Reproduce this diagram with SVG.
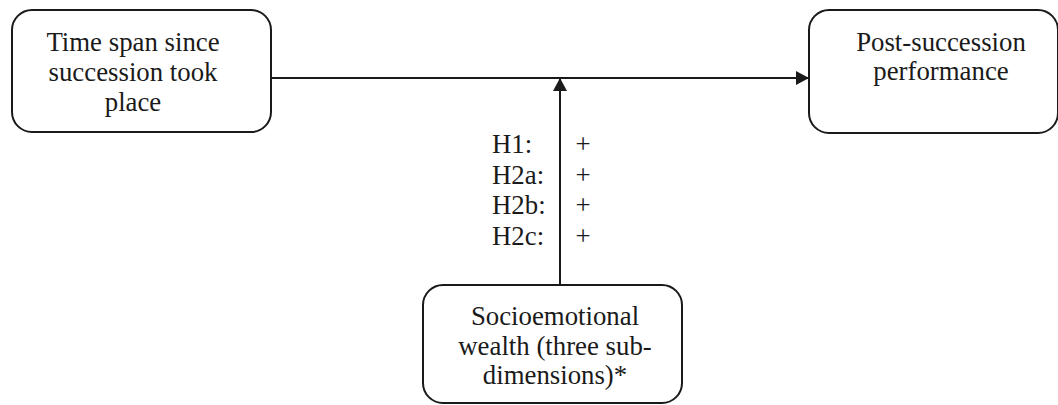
<svg xmlns="http://www.w3.org/2000/svg" width="1058" height="405" viewBox="0 0 1058 405">
<style>
.box{fill:#fff;stroke:#1a1a1a;stroke-width:2}
.t{font-family:"Liberation Serif","Times New Roman",serif;font-size:26.8px;fill:#1a1a1a}
.c{text-anchor:middle}
.ln{stroke:#1a1a1a;stroke-width:2;fill:none}
</style>
<defs>
<marker id="ah" viewBox="0 0 13 14" refX="13" refY="7" markerWidth="13" markerHeight="14" markerUnits="userSpaceOnUse" orient="auto">
<path d="M0,0 L13,7 L0,14 Z" fill="#1a1a1a"/>
</marker>
</defs>
<rect width="1058" height="405" fill="#fff"/>
<g id="connectors">
<line class="ln" x1="271" y1="78" x2="809" y2="78" marker-end="url(#ah)"/>
<line class="ln" x1="560" y1="285" x2="560" y2="78" marker-end="url(#ah)"/>
</g>
<g id="node-timespan">
<rect class="box" x="12" y="10" width="259" height="122" rx="20"/>
<text class="t c" x="133" y="51">Time span since</text>
<text class="t c" x="133" y="81">succession took</text>
<text class="t c" x="133" y="111">place</text>
</g>
<g id="node-performance">
<rect class="box" x="809" y="10" width="249" height="123" rx="20"/>
<text class="t c" x="941" y="51">Post-succession</text>
<text class="t c" x="941" y="80">performance</text>
</g>
<g id="node-sew">
<rect class="box" x="423" y="285" width="259" height="118" rx="20"/>
<text class="t c" x="555" y="325">Socioemotional</text>
<text class="t c" x="555" y="355">wealth (three sub-</text>
<text class="t c" x="555" y="384">dimensions)*</text>
</g>
<g id="labels">
<text class="t" x="492" y="153">H1:</text>
<text class="t" x="492" y="183.5">H2a:</text>
<text class="t" x="492" y="214">H2b:</text>
<text class="t" x="492" y="244.5">H2c:</text>
<text class="t c" x="583" y="153">+</text>
<text class="t c" x="583" y="183.5">+</text>
<text class="t c" x="583" y="214">+</text>
<text class="t c" x="583" y="244.5">+</text>
</g>
</svg>
